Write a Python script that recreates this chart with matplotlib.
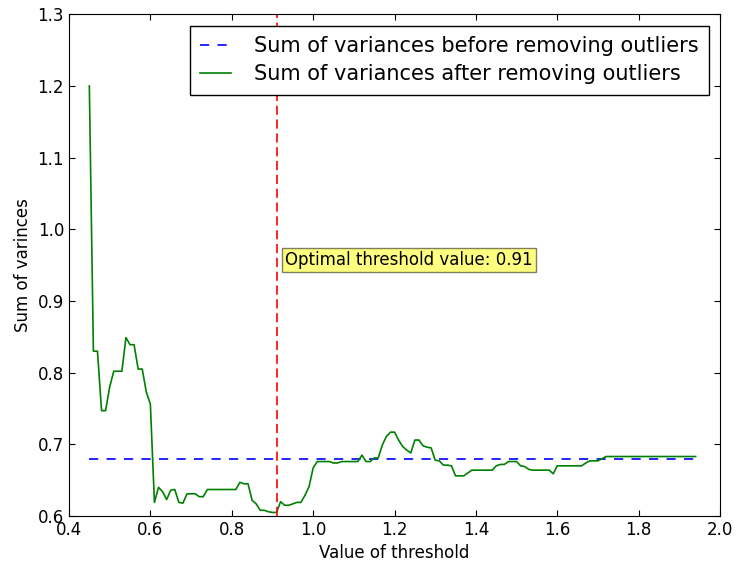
import numpy as np
import matplotlib
matplotlib.use("Agg")
import matplotlib.pyplot as plt

# thresholds 0.45 .. 1.94 step 0.01
thresholds = np.round(np.arange(0.45, 1.945, 0.01), 2)

after = [
    1.200, 0.830, 0.830, 0.747, 0.747, 0.780, 0.802, 0.802, 0.802, 0.849,  # 0.45-0.54
    0.839, 0.839, 0.805, 0.805, 0.773, 0.756, 0.619, 0.640, 0.634, 0.623,  # 0.55-0.64
    0.636, 0.637, 0.619, 0.618, 0.631, 0.631, 0.631, 0.627, 0.627, 0.637,  # 0.65-0.74
    0.637, 0.637, 0.637, 0.637, 0.637, 0.637, 0.637, 0.647, 0.645, 0.645,  # 0.75-0.84
    0.622, 0.617, 0.608, 0.608, 0.606, 0.605, 0.605, 0.620, 0.615, 0.615,  # 0.85-0.94
    0.617, 0.619, 0.619, 0.629, 0.641, 0.667, 0.676, 0.676, 0.676, 0.676,  # 0.95-1.04
    0.674, 0.674, 0.676, 0.676, 0.676, 0.676, 0.676, 0.685, 0.676, 0.676,  # 1.05-1.14
    0.681, 0.681, 0.699, 0.711, 0.717, 0.717, 0.706, 0.697, 0.692, 0.688,  # 1.15-1.24
    0.706, 0.706, 0.698, 0.696, 0.695, 0.678, 0.677, 0.671, 0.671, 0.670,  # 1.25-1.34
    0.656, 0.656, 0.656, 0.660, 0.664, 0.664, 0.664, 0.664, 0.664, 0.664,  # 1.35-1.44
    0.670, 0.672, 0.672, 0.676, 0.676, 0.676, 0.670, 0.669, 0.665, 0.664,  # 1.45-1.54
    0.664, 0.664, 0.664, 0.664, 0.659, 0.670, 0.670, 0.670, 0.670, 0.670,  # 1.55-1.64
    0.670, 0.670, 0.674, 0.677, 0.677, 0.677, 0.680, 0.683, 0.683, 0.683,  # 1.65-1.74
    0.683, 0.683, 0.683, 0.683, 0.683, 0.683, 0.683, 0.683, 0.683, 0.683,  # 1.75-1.84
    0.683, 0.683, 0.683, 0.683, 0.683, 0.683, 0.683, 0.683, 0.683, 0.683,  # 1.85-1.94
]
before = [0.680] * len(thresholds)
optimal = 0.91

plt.rcParams['font.size'] = 12
plt.rcParams['lines.linewidth'] = 1.2
plt.rcParams['xtick.direction'] = 'in'
plt.rcParams['ytick.direction'] = 'in'
plt.rcParams['xtick.top'] = True
plt.rcParams['ytick.right'] = True
plt.rcParams['xtick.major.size'] = 4
plt.rcParams['ytick.major.size'] = 4

fig = plt.figure(figsize=(7.37, 5.69), dpi=100)
ax = fig.add_axes([0.0936, 0.0931, 0.8834, 0.8819])

ax.plot(thresholds, before, color='blue', linestyle='--', dashes=(5.5, 5),
        label="Sum of variances before removing outliers")
ax.plot(thresholds, after, color='green', label="Sum of variances after removing outliers")
ax.axvline(optimal, color='red', linestyle='--', dashes=(5.5, 2.8))
ax.text(0.931, 0.957, "Optimal threshold value: 0.91", va='center', ha='left',
        bbox=dict(facecolor='yellow', alpha=0.5, edgecolor='black', pad=2))

ax.set_xlim(0.4, 2.0)
ax.set_ylim(0.6, 1.3)
ax.set_xlabel("Value of threshold")
ax.set_ylabel("Sum of varinces")
leg = ax.legend(loc='upper right', fancybox=False, framealpha=1, fontsize=15,
                borderaxespad=0.55, borderpad=0.5, handlelength=1.45,
                handletextpad=1.1, labelspacing=0.4)
leg.get_frame().set_edgecolor('black')

plt.savefig("out.png", dpi=100)
